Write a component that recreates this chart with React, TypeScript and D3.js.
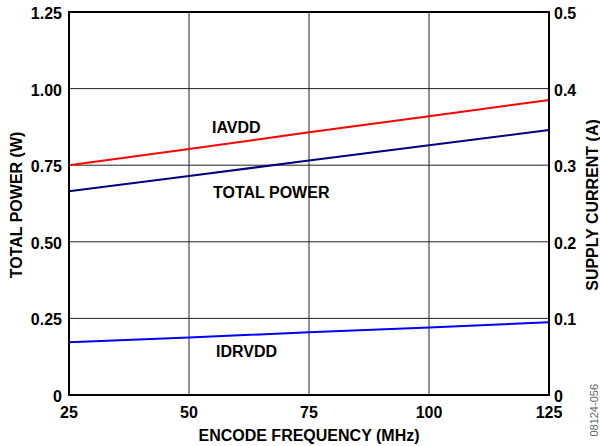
import React from "react";
import * as d3 from "d3";

const freqs = [25, 50, 75, 100, 125];
const iavdd = [0.300, 0.321, 0.343, 0.364, 0.385];
const totalPower = [0.665, 0.715, 0.765, 0.815, 0.865];
const idrvdd = [0.069, 0.075, 0.082, 0.088, 0.095];
const xTicks = [25, 50, 75, 100, 125];
const leftTicks = [0, 0.25, 0.5, 0.75, 1.0, 1.25];
const rightTicks = [0, 0.1, 0.2, 0.3, 0.4, 0.5];

const W = 600, H = 446;
const L = 69, R = 549, T = 12, B = 395;
const font = "Arial, 'Liberation Sans', Helvetica, sans-serif";

export default function App() {
  const x = d3.scaleLinear().domain([25, 125]).range([L, R]);
  const yL = d3.scaleLinear().domain([0, 1.25]).range([B, T]);
  const yR = d3.scaleLinear().domain([0, 0.5]).range([B, T]);
  const lineR = d3.line<number>().x((_, i) => x(freqs[i])).y((d) => yR(d));
  const lineL = d3.line<number>().x((_, i) => x(freqs[i])).y((d) => yL(d));
  const fmtL = (v: number) => (v === 0 ? "0" : v.toFixed(2));
  const fmtR = (v: number) => (v === 0 ? "0" : v.toFixed(1));
  return (
    <svg width={W} height={H} style={{ position: "absolute", left: 0, top: 0 }} fontFamily={font}>
      <rect x={0} y={0} width={W} height={H} fill="#fff" />
      {xTicks.slice(1, -1).map((t) => (
        <line key={"gx" + t} x1={x(t)} x2={x(t)} y1={T} y2={B} stroke="#222" strokeWidth={1} />
      ))}
      {leftTicks.slice(1, -1).map((t) => (
        <line key={"gy" + t} x1={L} x2={R} y1={yL(t)} y2={yL(t)} stroke="#222" strokeWidth={1} />
      ))}
      <path d={lineR(iavdd) || ""} fill="none" stroke="#ff0000" strokeWidth={2} />
      <path d={lineL(totalPower) || ""} fill="none" stroke="#00007f" strokeWidth={2} />
      <path d={lineR(idrvdd) || ""} fill="none" stroke="#0000ff" strokeWidth={2} />
      <rect x={L} y={T} width={R - L} height={B - T} fill="none" stroke="#000" strokeWidth={2} />
      {leftTicks.map((t) => (
        <text key={"lt" + t} x={L - 7} y={yL(t) + 7} textAnchor="end" fontSize={16} fontWeight="bold">
          {fmtL(t)}
        </text>
      ))}
      {rightTicks.map((t) => (
        <text key={"rt" + t} x={R + 5} y={yR(t) + 7} textAnchor="start" fontSize={16} fontWeight="bold">
          {fmtR(t)}
        </text>
      ))}
      {xTicks.map((t) => (
        <text key={"xt" + t} x={x(t)} y={418} textAnchor="middle" fontSize={16} fontWeight="bold">
          {t}
        </text>
      ))}
      <text x={309} y={441} textAnchor="middle" fontSize={16} fontWeight="bold">ENCODE FREQUENCY (MHz)</text>
      <text transform="translate(22,205) rotate(-90)" textAnchor="middle" fontSize={16} fontWeight="bold">TOTAL POWER (W)</text>
      <text transform="translate(598,205) rotate(-90)" textAnchor="middle" fontSize={16} fontWeight="bold">SUPPLY CURRENT (A)</text>
      <text x={212} y={133} fontSize={16} fontWeight="bold">IAVDD</text>
      <text x={213} y={198} fontSize={16} fontWeight="bold">TOTAL POWER</text>
      <text x={216} y={357} fontSize={16} fontWeight="bold">IDRVDD</text>
      <text transform="translate(598,384) rotate(-90)" textAnchor="end" fontSize={11} fill="#666">08124-056</text>
    </svg>
  );
}
